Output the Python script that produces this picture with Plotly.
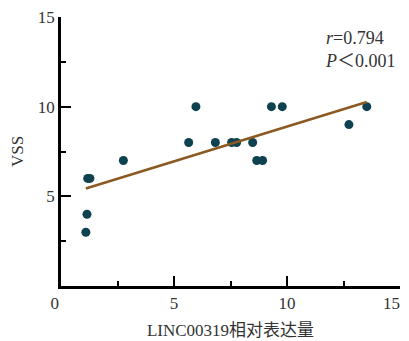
import plotly.graph_objects as go

# Data
expr = [1.10, 1.15, 1.18, 1.28, 2.76, 5.65, 5.97, 6.83, 7.55, 7.77, 8.48, 8.66, 8.92, 9.31, 9.79, 12.74, 13.53]
vss = [3, 4, 6, 6, 7, 8, 10, 8, 8, 8, 8, 7, 7, 10, 10, 9, 10]
fit_x = [1.10, 13.53]
fit_y = [5.44, 10.26]
x_ticks = [0, 5, 10, 15]
x_labels = ["0\u00a0\u00a0\u00a0", "5", "10", "15\u00a0\u00a0\u00a0\u00a0"]
y_ticks = [5, 10, 15]
y_labels = ["5", "10", "15"]
stats_text = "<i>r</i>=0.794<br><i>P</i>＜0.001"

FONT = "Liberation Serif, 'Noto Sans CJK SC', serif"

fig = go.Figure()
fig.add_trace(go.Scatter(
    x=expr, y=vss, mode="markers",
    marker=dict(size=9, color="#0e4250"),
    showlegend=False, hoverinfo="skip", cliponaxis=False,
))
fig.add_trace(go.Scatter(
    x=fit_x, y=fit_y, mode="lines",
    line=dict(color="#8a5a22", width=2.5),
    showlegend=False, hoverinfo="skip",
))

axis_common = dict(
    showline=True, linecolor="black", linewidth=2.5,
    ticks="inside", ticklen=10, tickwidth=2, tickcolor="black",
    showgrid=False, zeroline=False, automargin=False,
    ticklabeloverflow="allow",
    tickfont=dict(family=FONT, size=17, color="#333"),
    minor=dict(ticks="inside", ticklen=5, tickwidth=2, tickcolor="black", dtick=2.5, showgrid=False),
)

fig.update_xaxes(
    range=[0, 15], tickmode="array", tickvals=x_ticks, ticktext=x_labels,
    title=dict(text="LINC00319相对表达量", font=dict(family=FONT, size=17, color="#333"), standoff=12),
    **axis_common,
)
fig.update_yaxes(
    range=[0, 15], tickmode="array", tickvals=y_ticks, ticktext=y_labels,
    title=dict(text="VSS", font=dict(family=FONT, size=17, color="#333"), standoff=14),
    **axis_common,
)

fig.add_annotation(
    x=14.9, y=14.5, xref="x", yref="y", xanchor="right", yanchor="top",
    text=stats_text, showarrow=False, align="left",
    font=dict(family=FONT, size=18, color="#333"),
)

# page body has an 8px margin, so the figure is drawn 8px smaller
fig.update_layout(
    width=401, height=333,
    margin=dict(l=53, r=9, t=9, b=55, autoexpand=False),
    plot_bgcolor="white", paper_bgcolor="white",
)

fig.write_html("out.html")
